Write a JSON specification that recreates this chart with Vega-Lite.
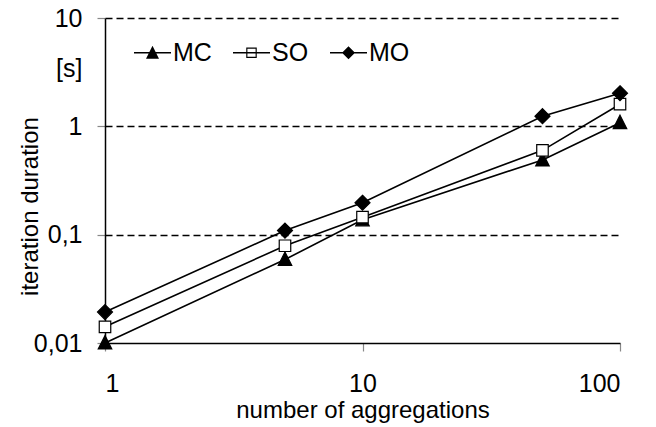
{
  "$schema": "https://vega.github.io/schema/vega-lite/v6.json",
  "width": 515,
  "height": 325,
  "autosize": {"type": "none"},
  "padding": {"left": 105, "top": 18, "right": 36, "bottom": 84},
  "background": "white",
  "config": {
    "view": {"stroke": null},
    "font": "Liberation Sans",
    "axis": {
      "labelFont": "Liberation Sans",
      "labelFontSize": 25,
      "labelColor": "black",
      "titleFont": "Liberation Sans",
      "titleFontSize": 24,
      "titleFontWeight": "normal",
      "titleColor": "black",
      "domainColor": "black",
      "domainWidth": 1.5,
      "tickColor": "#888888",
      "tickSize": 8,
      "tickWidth": 1.2
    }
  },
  "data": {
    "values": [
      {"n": 1, "t": 0.01, "series": "MC"},
      {"n": 5, "t": 0.059, "series": "MC"},
      {"n": 10, "t": 0.137, "series": "MC"},
      {"n": 50, "t": 0.49, "series": "MC"},
      {"n": 100, "t": 1.08, "series": "MC"},
      {"n": 1, "t": 0.0141, "series": "SO"},
      {"n": 5, "t": 0.079, "series": "SO"},
      {"n": 10, "t": 0.145, "series": "SO"},
      {"n": 50, "t": 0.6, "series": "SO"},
      {"n": 100, "t": 1.6, "series": "SO"},
      {"n": 1, "t": 0.0193, "series": "MO"},
      {"n": 5, "t": 0.109, "series": "MO"},
      {"n": 10, "t": 0.197, "series": "MO"},
      {"n": 50, "t": 1.24, "series": "MO"},
      {"n": 100, "t": 2.02, "series": "MO"}
    ]
  },
  "resolve": {"scale": {"shape": "independent"}, "legend": {"shape": "independent"}},
  "layer": [
    {
      "mark": {"type": "line", "color": "black", "strokeWidth": 1.6},
      "encoding": {
        "x": {
          "field": "n",
          "type": "quantitative",
          "scale": {"type": "log", "domain": [1, 100], "nice": false},
          "axis": {
            "values": [1, 10, 100],
            "format": "d",
            "grid": false,
            "labelPadding": 20,
            "titlePadding": 2,
            "title": "number of aggregations"
          }
        },
        "y": {
          "field": "t",
          "type": "quantitative",
          "scale": {"type": "log", "domain": [0.01, 10], "nice": false},
          "axis": {
            "values": [0.01, 0.1, 1, 3.4, 10],
            "labelExpr": "datum.value == 3.4 ? '[s]' : replace(toString(datum.value), '.', ',')",
            "grid": true,
            "gridColor": {"condition": {"test": "datum.value == 3.4 || datum.value == 0.01", "value": "transparent"}, "value": "black"},
            "gridDash": [7, 4],
            "gridWidth": 1.3,
            "tickColor": {"condition": {"test": "datum.value == 3.4", "value": "transparent"}, "value": "#888888"},
            "labelPadding": 15,
            "title": "iteration duration",
            "titleX": -68,
            "titleY": 188,
            "titleAngle": -90,
            "titleBaseline": "alphabetic",
            "titleAlign": "center"
          }
        },
        "detail": {"field": "series", "type": "nominal"}
      }
    },
    {
      "mark": {"type": "point", "filled": true, "stroke": "black", "strokeWidth": 1.2, "opacity": 1, "size": 100},
      "encoding": {
        "x": {"field": "n", "type": "quantitative"},
        "y": {"field": "t", "type": "quantitative"},
        "fill": {"condition": {"test": "datum.series === 'SO'", "value": "white"}, "value": "black"},
        "shape": {
          "field": "series",
          "type": "nominal",
          "scale": {
            "domain": ["MC", "SO", "MO"],
            "range": ["M0,-1.5L1.35,1.2H-1.35Z", "M-1.15,-1.15H1.15V1.15H-1.15Z", "M0,-1.5L1.5,0L0,1.5L-1.5,0Z"]
          },
          "legend": null
        }
      }
    },
    {
      "transform": [{"filter": "datum.n < 0"}],
      "mark": {"type": "point", "filled": true, "color": "black", "opacity": 1, "size": 100},
      "encoding": {
        "x": {"field": "n", "type": "quantitative"},
        "y": {"field": "t", "type": "quantitative"},
        "shape": {
          "field": "series",
          "type": "nominal",
          "scale": {
            "domain": ["MC", "SO", "MO"],
            "range": [
              "M-3.7,-0.15H3.7V0.15H-3.7Z M0,-1.4L1.3,1.2H-1.3Z",
              "M-3.7,-0.15H3.7V0.15H-3.7Z M-1.05,-1.05H1.05V1.05H-1.05Z M-0.82,-0.82V0.82H0.82V-0.82Z",
              "M-3.7,-0.15H3.7V0.15H-3.7Z M0,-1.3L1.3,0L0,1.3L-1.3,0Z"
            ]
          },
          "legend": {
            "title": null,
            "orient": "none",
            "legendX": 35,
            "legendY": 22,
            "direction": "horizontal",
            "symbolSize": 100,
            "symbolOpacity": 1,
            "symbolFillColor": "black",
            "symbolStrokeWidth": 0,
            "labelOffset": 8,
            "columnPadding": 21,
            "labelFont": "Liberation Sans",
            "labelFontSize": 25,
            "labelColor": "black"
          }
        }
      }
    }
  ]
}
